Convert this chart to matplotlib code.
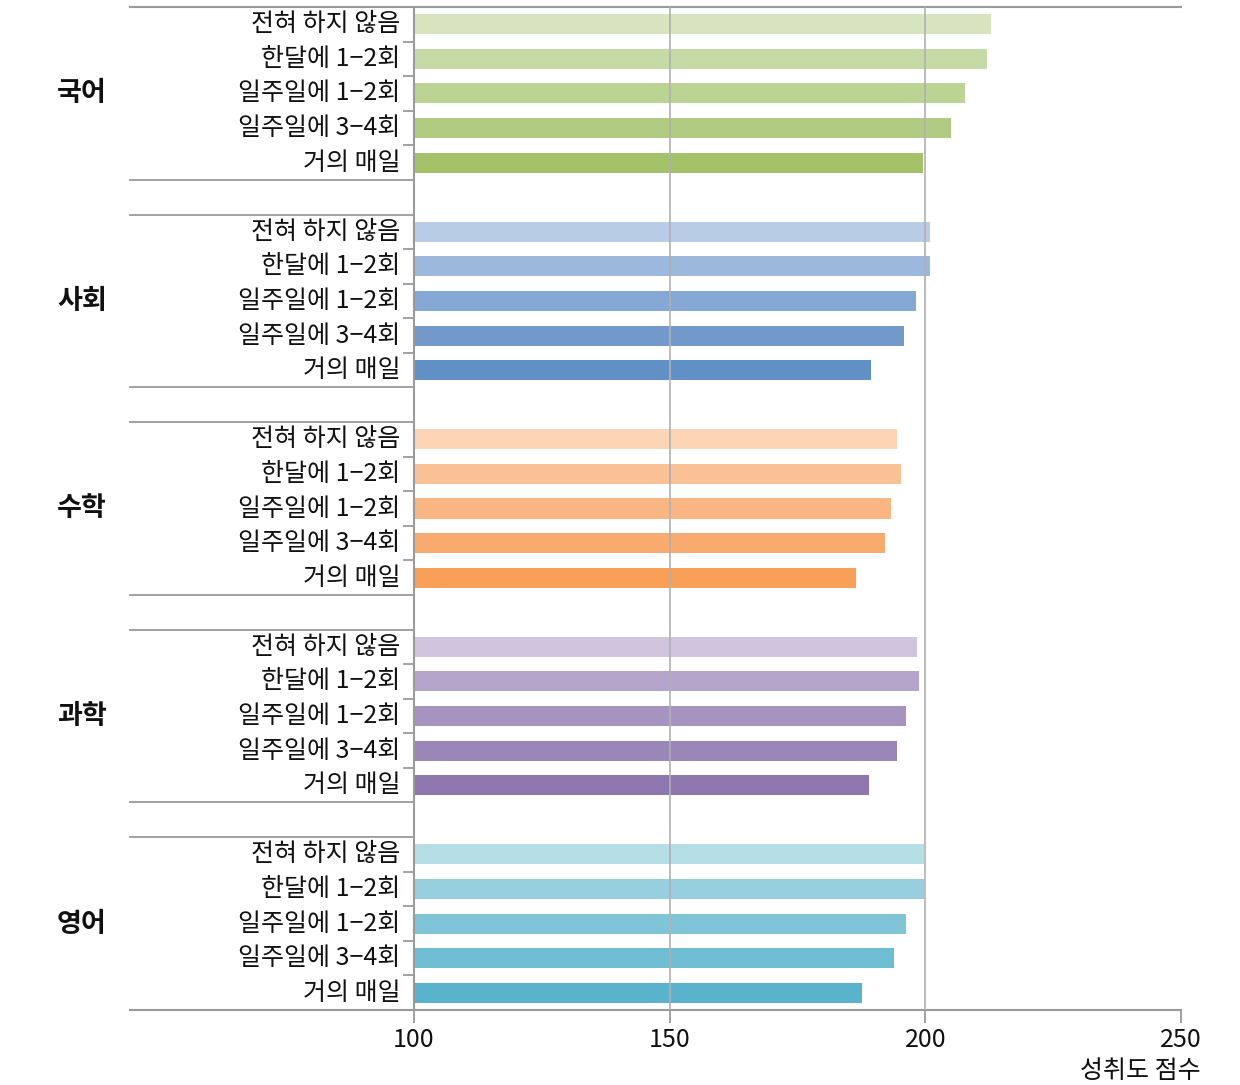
import matplotlib
matplotlib.use("Agg")
import matplotlib.pyplot as plt
import matplotlib.transforms as mtransforms

plt.rcParams['font.family'] = ['Noto Sans CJK KR', 'DejaVu Sans']

subjects = ['국어', '사회', '수학', '과학', '영어']
frequencies = ['전혀 하지 않음', '한달에 1−2회', '일주일에 1−2회', '일주일에 3−4회', '거의 매일']
scores = {
    '국어': [212.8, 212.1, 207.8, 205.0, 199.6],
    '사회': [201.0, 201.0, 198.1, 195.9, 189.4],
    '수학': [194.5, 195.3, 193.3, 192.1, 186.4],
    '과학': [198.4, 198.8, 196.2, 194.5, 189.0],
    '영어': [199.8, 199.8, 196.2, 193.8, 187.7],
}
colors = {
    '국어': ['#d6e5c0', '#c6daa5', '#bbd393', '#b0cb81', '#a4c26a'],
    '사회': ['#b8cce5', '#9cb8dc', '#86a8d5', '#7399cb', '#6090c5'],
    '수학': ['#fcd4b6', '#fbc196', '#f9b683', '#f9aa6e', '#f89f58'],
    '과학': ['#d0c4de', '#b6a5cb', '#a693c0', '#9b86b8', '#8e76ae'],
    '영어': ['#b6dee7', '#97cfde', '#80c4d7', '#6fbdd2', '#5ab3cc'],
}
xticks = [100, 150, 200, 250]
xlabel = '성취도 점수'

fig = plt.figure(figsize=(12.4, 10.85), dpi=100)
L, R, T, B = 414, 1181, 7, 1010
ax = fig.add_axes([L / 1240, 1 - B / 1085, (R - L) / 1240, (B - T) / 1085])

gray = '#9a9a9a'
fs = 18
n_items = len(frequencies)
step = n_items + 1
total = len(subjects) * step - 1
blend = mtransforms.blended_transform_factory(ax.transAxes, ax.transData)

for g, subj in enumerate(subjects):
    ys = [g * step + i + 0.5 for i in range(n_items)]
    ax.barh(ys, scores[subj], left=0, height=0.58, color=colors[subj], zorder=2)
    for y, lab in zip(ys, frequencies):
        ax.text(-0.018, y, lab, transform=blend,
                ha='right', va='center', fontsize=fs, color='#111111')
    ax.text(-0.433, g * step + n_items / 2, subj, transform=blend,
            ha='center', va='center', fontsize=19.5, fontweight='bold', color='#111111')

ax.set_xlim(100, 250)
ax.set_ylim(total, 0)

left_x = (130 - L) / (R - L)
for g in range(len(subjects) - 1):
    for yy in [g * step + n_items, g * step + n_items + 1]:
        ax.plot([left_x, 0], [yy, yy], transform=blend, color=gray, lw=1.3, clip_on=False, zorder=3)
ax.plot([left_x, 1], [0, 0], transform=blend, color=gray, lw=1.5, clip_on=False, zorder=3)
ax.plot([left_x, 1], [total, total], transform=blend, color=gray, lw=1.5, clip_on=False, zorder=3)

for xv in xticks[1:-1]:
    ax.axvline(xv, color='#b0b0b0', lw=1.2, zorder=3)

for s in ['top', 'right', 'bottom']:
    ax.spines[s].set_visible(False)
ax.spines['left'].set_color(gray)
ax.spines['left'].set_linewidth(1.5)

ax.set_yticks([])
minor = [g * step + i for g in range(len(subjects)) for i in range(1, n_items)]
ax.set_yticks(minor, minor=True)
ax.tick_params(axis='y', which='minor', length=8, width=1.3, color=gray, labelleft=False)

ax.set_xticks(xticks)
ax.set_xticklabels([str(v) for v in xticks])
ax.tick_params(axis='x', which='major', length=9, width=1.3, color=gray, labelsize=fs, pad=3,
               labelcolor='#111111')
ax.text(1.026, -0.061, xlabel, transform=ax.transAxes, ha='right', va='center', fontsize=fs,
        color='#111111')

fig.savefig('out.png', dpi=100)
